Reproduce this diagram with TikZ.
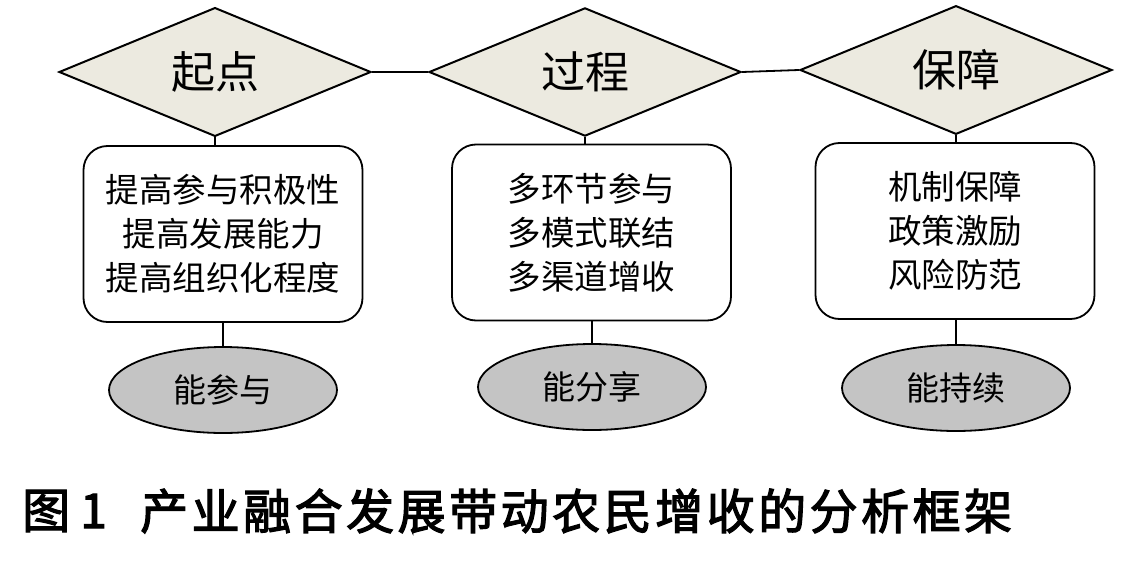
\documentclass[tikz,border=0pt]{standalone}
\usepackage{fontspec}
\usetikzlibrary{shapes.geometric}
\newfontfamily\cjk{Noto Sans CJK SC}
\newfontfamily\cjkcap{Noto Sans CJK SC}[FakeBold=2.5]
\definecolor{beige}{HTML}{ECEAE0}
\definecolor{ovalgray}{HTML}{C4C4C4}
\newcommand\ck{\kern3.5pt}
\begin{document}
\begin{tikzpicture}[x=1pt,y=-1pt,
  dia/.style={draw=black,line width=2pt,fill=beige,shape=diamond,inner sep=0pt,
    minimum width=312pt,minimum height=105pt,font=\cjk\fontsize{44pt}{48pt}\selectfont},
  rbox/.style={draw=black,line width=1.8pt,rounded corners=24pt,inner sep=0pt,
    minimum width=279pt,minimum height=176pt,align=center,
    font=\cjk\fontsize{33.5pt}{44pt}\selectfont},
  oval/.style={draw=black,line width=1.8pt,fill=ovalgray,shape=ellipse,inner sep=0pt,
    minimum width=228pt,minimum height=86pt,font=\cjk\fontsize{33pt}{36pt}\selectfont},
  conn/.style={draw=black,line width=1.8pt},
  captxt/.style={anchor=west,inner sep=0pt,font=\cjkcap\fontsize{48pt}{52pt}\selectfont}]
\useasboundingbox (0,0) rectangle (1124,562);
\fill[white] (0,0) rectangle (1124,562);
% diamonds
\node[dia] (d1) at (215,72) {起点};
\node[dia] (d2) at (585,72) {过程};
\node[dia] (d3) at (956,70) {保障};
% boxes
\node[rbox] (b1) at (223,234) {提高参与积极性\\提高发展能力\\提高组织化程度};
\node[rbox] (b2) at (591.5,232.5) {多环节参与\\多模式联结\\多渠道增收};
\node[rbox] (b3) at (955,231) {机制保障\\政策激励\\风险防范};
% ovals
\node[oval] (e1) at (223,390) {能参与};
\node[oval] (e2) at (592,387) {能分享};
\node[oval] (e3) at (956,388) {能持续};
% connectors
\draw[conn] (d1.east) -- (d2.west);
\draw[conn] (d2.east) -- (d3.west);
\draw[conn] (d1.south) -- (d1.south |- b1.north);
\draw[conn] (d2.south) -- (d2.south |- b2.north);
\draw[conn] (d3.south) -- (d3.south |- b3.north);
\draw[conn] (b1.south -| e1.north) -- (e1.north);
\draw[conn] (b2.south -| e2.north) -- (e2.north);
\draw[conn] (b3.south -| e3.north) -- (e3.north);
% caption
\node[captxt] (cap1) at (22,511) {图};
\node[captxt] (cap2) at (80,511) {1};
\node[captxt] (cap3) at (140,511) {产\ck 业\ck 融\ck 合\ck 发\ck 展\ck 带\ck 动\ck 农\ck 民\ck 增\ck 收\ck 的\ck 分\ck 析\ck 框\ck 架};
\end{tikzpicture}
\end{document}
